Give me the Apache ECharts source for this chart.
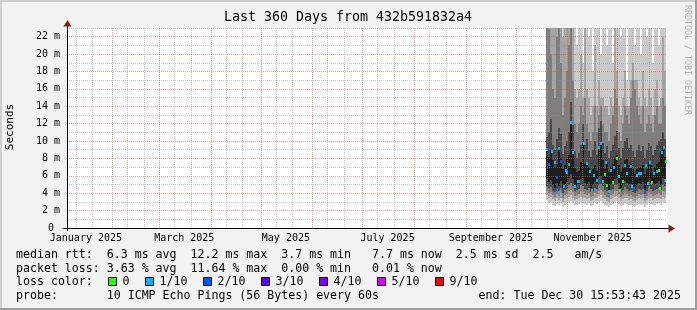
<!DOCTYPE html>
<html><head><meta charset="utf-8">
<script src="https://cdn.jsdelivr.net/npm/echarts@6/dist/echarts.min.js"></script>
<style>html,body{margin:0;padding:0;background:#f2f2f2}#c{width:697px;height:310px}</style>
</head><body><div id="c"></div>
<script>
// ---------- data ----------
const chartTitle = 'Last 360 Days from 432b591832a4';
const yTitle = 'Seconds';
const endTime = '2025-12-30T15:53:43Z';
const spanDays = 360;
const monthStarts = ['2025-02-01','2025-03-01','2025-04-01','2025-05-01','2025-06-01','2025-07-01','2025-08-01','2025-09-01','2025-10-01','2025-11-01','2025-12-01'];
const minorDays = [10, 20];   // minor grid on these days of every month
const xLabels = ['January 2025','March 2025','May 2025','July 2025','September 2025','November 2025'];
const xLabelDates = ['2025-01-16','2025-03-16','2025-05-16','2025-07-16','2025-09-16','2025-11-16'];

// smoke columns (ms), sorted pings of each consolidated period; 30 = above chart top
const smokeStart = '2025-10-19T01:30:00Z';
const smokeStepDays = 1.2;
const ping1  = [3.2,2.9,3.0,2.7,2.5,2.8,2.6,2.9,2.4,2.7,2.8,3.0,3.1,2.9,2.6,2.7,2.8,3.0,2.9,2.8,2.7,2.9,2.5,2.6,2.9,2.8,3.0,3.1,2.9,2.7,2.5,2.4,2.7,2.8,3.0,3.1,2.8,2.5,2.7,2.9,2.8,2.6,2.7,2.5,2.4,2.6,2.8,2.7,2.8,2.4,2.6,2.9,2.8,2.6,2.7,2.8,2.9,2.7,3.0,2.9];
const ping2  = [3.8,3.5,3.6,3.3,3.1,3.4,3.2,3.5,3.0,3.3,3.4,3.6,3.8,3.5,3.2,3.3,3.4,3.6,3.5,3.4,3.3,3.5,3.1,3.2,3.5,3.4,3.7,3.8,3.5,3.3,3.1,3.0,3.3,3.4,3.6,3.7,3.4,3.1,3.3,3.5,3.4,3.2,3.3,3.1,3.0,3.2,3.4,3.3,3.4,3.0,3.2,3.5,3.4,3.2,3.3,3.4,3.5,3.3,3.6,3.5];
const ping3  = [4.2,4.0,4.1,3.8,3.6,3.9,3.7,4.0,3.5,3.8,3.9,4.2,4.4,4.1,3.7,3.8,3.9,4.2,4.1,3.9,3.8,4.0,3.6,3.7,4.0,3.9,4.3,4.4,4.1,3.8,3.6,3.4,3.8,3.9,4.2,4.3,3.9,3.6,3.8,4.0,3.9,3.7,3.8,3.6,3.5,3.7,3.9,3.8,3.9,3.4,3.7,4.0,3.9,3.7,3.8,3.9,4.0,3.8,4.2,4.1];
const ping4  = [4.8,4.6,4.7,4.3,4.1,4.5,4.2,4.6,4.0,4.4,4.5,4.9,5.2,4.8,4.2,4.4,4.5,4.9,4.8,4.5,4.4,4.6,4.1,4.2,4.6,4.5,5.0,5.1,4.8,4.4,4.2,3.9,4.4,4.5,4.9,5.0,4.5,4.1,4.4,4.7,4.5,4.3,4.4,4.1,4.0,4.3,4.5,4.4,4.5,3.9,4.2,4.7,4.5,4.3,4.4,4.5,4.6,4.4,4.9,4.8];
const ping5  = [5.6,5.3,5.5,5.0,4.6,5.2,4.8,5.4,4.6,5.1,5.3,5.8,6.2,5.6,4.8,5.0,5.1,5.6,5.7,5.2,5.1,5.3,4.6,4.9,5.3,5.1,5.9,6.0,5.5,5.2,4.8,4.3,5.0,5.2,5.6,5.8,5.2,4.6,5.0,5.4,5.2,5.0,5.1,4.7,4.5,5.0,5.2,5.1,5.3,4.4,4.8,5.4,5.2,4.9,5.1,5.2,5.4,5.0,5.8,5.6];
const ping6  = [9.2,8.2,9.0,7.8,7.0,7.4,9.4,8.0,6.8,7.2,7.9,8.4,12.3,9.0,6.9,6.4,6.6,7.6,9.8,7.4,7.6,7.0,6.5,6.8,7.2,6.6,9.4,9.9,7.8,6.8,7.6,6.4,7.0,7.4,8.0,8.4,7.2,6.4,7.0,7.8,7.9,7.2,7.4,6.8,6.2,6.8,7.0,7.0,7.2,6.2,6.8,7.6,7.2,6.4,7.0,7.4,7.6,8.8,9.4,8.2];
const ping7  = [10.5,11.0,12.5,9.6,9.0,10.2,11.5,10.8,8.5,9.4,10.0,11.0,14.5,11.8,8.8,8.0,8.6,9.6,12.0,9.5,10.2,8.8,8.2,9.0,10.0,8.4,11.5,12.3,9.8,8.6,9.4,8.0,8.9,9.6,10.6,11.2,9.2,8.0,9.2,10.0,10.4,9.2,9.6,8.8,8.2,9.0,9.6,8.8,9.4,8.0,9.0,9.8,9.4,8.4,9.0,9.6,10.0,10.2,11.0,10.2];
const ping8  = [24,30,20,16,15,22,30,19,13,15,18,21,30,17,12,11,12,14,13,15,12,11,10,11,14,11,13,14,12,11,11,10,12,13,16,15,11,10,12,14,13,12,15,17,16,14,13,12,14,11,12,13,12,11,13,14,12,12,15,14];
const ping9  = [30,30,30,30,26,30,30,30,22,30,30,30,30,30,16,15,16,20,15,24,16,15,13,14,21,14,17,15,15,14,14,13,15,14,23,18,14,13,15,18,14,14,17,19,17,17,15,14,18,15,14,16,15,13,16,17,14,15,22,18];
const ping10 = [30,30,30,30,30,30,30,30,30,30,30,30,30,30,30,21,30,30,19,30,30,22,30,18,30,30,30,20,30,30,21,30,30,19,30,30,30,22,30,30,17,30,30,30,21,30,30,20,30,30,22,30,30,19,30,30,21,30,30,30];

// median rtt (ms) per RRD row (0.6 day) and its loss level (tenths); null = not drawn
const medianStepDays = 0.6;
const medianRtt = [9.1,null,7.4,null,null,8.8,null,null,7.6,4.5, 5.9,null,9.2,4.3,7.7,null,null,4.8,null,6.7, 6.4,null,7.4,null,12.2,null,8.7,null,4.8,null, null,5.4,5.4,null,null,null,null,9.8,null,null, 7.5,null,null,6.6,null,4.4,null,6.1,null,null, 5.5,null,9.3,null,9.8,null,5.4,null,6.2,7.6, 5.0,null,4.2,null,6.7,null,5.3,7.0,null,null, 8.0,null,6.0,4.4,null,null,5.4,null,7.3,null, 6.3,null,null,null,7.1,4.8,null,4.6,null,null, 6.1,null,6.3,null,6.3,null,null,null,4.2,7.3, null,5.2,null,7.6,null,5.3,null,6.3,null,null, 6.5,null,6.7,4.6,null,8.7,null,9.3,5.5,7.7];
const lossLevel = [1,null,2,null,null,1,null,null,1,2, 2,null,1,1,2,null,null,1,null,1, 1,null,1,null,1,null,1,null,1,null, null,1,1,null,null,null,null,1,null,null, 1,null,null,1,null,1,null,1,null,null, 1,null,1,null,1,null,1,null,0,1, 0,null,1,null,1,null,0,1,null,null, 0,null,1,0,null,null,0,null,1,null, 1,null,null,null,1,1,null,2,null,null, 1,null,1,null,1,null,null,null,2,1, null,1,null,1,null,0,null,1,null,null, 1,null,0,0,null,1,null,1,1,0];

const lossNames = ['0','1/10','2/10','3/10','4/10','5/10','9/10'];
const lossKeys = [0,1,2,3,4,5,9];
const lossColorList = ['#26ff00','#00b8ff','#0059ff','#5e00ff','#7e00ff','#dd00ff','#ff0000'];

const legendRtt = 'median rtt:  6.3 ms avg  12.2 ms max  3.7 ms min   7.7 ms now  2.5 ms sd  2.5   am/s';
const legendLoss = 'packet loss: 3.63 % avg  11.64 % max  0.00 % min   0.01 % now';
const legendColorHead = 'loss color:';
const probeLine = ['probe:       10 ICMP Echo Pings (56 Bytes) every 60s', 'end: Tue Dec 30 15:53:43 2025'];

// ---------- build (x axis in days since window start) ----------
const DAY = 86400000;
const endTs = Date.parse(endTime);
const startTs = endTs - spanDays * DAY;
const toDay = (ts) => (ts - startTs) / DAY;
const monthX = monthStarts.map(d => toDay(Date.parse(d + 'T00:00:00Z')));
const labelX = xLabelDates.map(d => toDay(Date.parse(d + 'T00:00:00Z')));
const minorX = [];
['2025-01-01'].concat(monthStarts).forEach(m => minorDays.forEach(dd => {
  const x = toDay(Date.parse(m.slice(0, 8) + String(dd).padStart(2, '0') + 'T00:00:00Z'));
  if (x > 0 && x < spanDays) minorX.push(x);
}));

const pings = [ping1,ping2,ping3,ping4,ping5,ping6,ping7,ping8,ping9,ping10];
const s0 = toDay(Date.parse(smokeStart));
const smokeData = ping1.map((_, i) => [s0 + i*smokeStepDays, s0 + (i+1)*smokeStepDays].concat(pings.map(p => p[i])));
const medianData = [];
medianRtt.forEach((v, i) => { if (v != null) medianData.push([s0 + i*medianStepDays, s0 + (i+1)*medianStepDays, v, lossLevel[i]]); });
const lossColor = {}; lossKeys.forEach((k, i) => lossColor[k] = lossColorList[i]);

const smokeColors = ['#cacaca','#a4a4a4','#7e7e7e','#4a4a4a','#1e1e1e'];
const MONO = 'DejaVu Sans Mono';
const majorCol = 'rgba(222,79,79,0.5)';
const minorCol = 'rgba(143,143,143,0.45)';

const chart = echarts.init(document.getElementById('c'), null, {renderer: 'canvas', width: 697, height: 310});

const G = {left: 67, top: 28, width: 600, height: 200};
const graphics = [];
graphics.push({type:'rect', shape:{x:0,y:0,width:697,height:2}, style:{fill:'#cfcfcf'}, silent:true});
graphics.push({type:'rect', shape:{x:0,y:0,width:2,height:310}, style:{fill:'#cfcfcf'}, silent:true});
graphics.push({type:'rect', shape:{x:0,y:308,width:697,height:2}, style:{fill:'#9e9e9e'}, silent:true});
graphics.push({type:'rect', shape:{x:695,y:0,width:2,height:310}, style:{fill:'#9e9e9e'}, silent:true});
graphics.push({type:'text', x:348, y:18, style:{text:chartTitle, font:'13.3px "'+MONO+'"', fill:'#000', align:'center', verticalAlign:'middle'}});
graphics.push({type:'text', x:10, y:127, rotation:Math.PI/2, style:{text:yTitle, font:'11px "'+MONO+'"', fill:'#000', align:'center', verticalAlign:'middle'}});
graphics.push({type:'text', x:687, y:60, rotation:-Math.PI/2, style:{text:'RRDTOOL / TOBI OETIKER', font:'8.3px "'+MONO+'"', fill:'#b4b4b4', align:'center', verticalAlign:'middle'}});
// axis extensions and arrows
graphics.push({type:'line', shape:{x1:67.5,y1:28,x2:67.5,y2:24}, style:{stroke:'#000', lineWidth:1}, z:20});
graphics.push({type:'line', shape:{x1:67.5,y1:228,x2:67.5,y2:231}, style:{stroke:'#000', lineWidth:1}, z:20});
graphics.push({type:'line', shape:{x1:63,y1:228.5,x2:67,y2:228.5}, style:{stroke:'#000', lineWidth:1}, z:20});
graphics.push({type:'polygon', shape:{points:[[63.5,26.5],[71.5,26.5],[67.5,20]]}, style:{fill:'#801f1f'}, z:20});
graphics.push({type:'line', shape:{x1:667,y1:228.5,x2:670,y2:228.5}, style:{stroke:'#000', lineWidth:1}, z:20});
graphics.push({type:'polygon', shape:{points:[[668.5,224.5],[668.5,232.5],[675,228.5]]}, style:{fill:'#801f1f'}, z:20});
// legend
const lf = '11.6px "'+MONO+'"';
graphics.push({type:'text', x:16, y:255, style:{text:legendRtt, font:lf, fill:'#000', verticalAlign:'middle'}});
graphics.push({type:'text', x:16, y:268.5, style:{text:legendLoss, font:lf, fill:'#000', verticalAlign:'middle'}});
graphics.push({type:'text', x:16, y:282, style:{text:legendColorHead, font:lf, fill:'#000', verticalAlign:'middle'}});
const swX = [108.5,145.5,203.5,261.5,319.5,377.5,435.5];
lossNames.forEach((s,i) => {
  graphics.push({type:'rect', shape:{x:swX[i], y:277.5, width:8, height:8}, style:{fill:lossColorList[i], stroke:'#000', lineWidth:1}});
  graphics.push({type:'text', x:swX[i]+14, y:282, style:{text:s, font:lf, fill:'#000', verticalAlign:'middle'}});
});
graphics.push({type:'text', x:16, y:296, style:{text:probeLine[0], font:lf, fill:'#000', verticalAlign:'middle'}});
graphics.push({type:'text', x:681, y:296, style:{text:probeLine[1], font:lf, fill:'#000', align:'right', verticalAlign:'middle'}});

chart.setOption({
  animation: false,
  backgroundColor: '#f2f2f2',
  grid: {left: G.left, top: G.top, width: G.width, height: G.height, show: true, backgroundColor: '#ffffff', borderWidth: 0},
  xAxis: [
    {type:'value', min:0, max:spanDays, z:6,
     axisLine:{show:true, onZero:false, lineStyle:{color:'#000', width:1}},
     axisTick:{show:false, customValues: monthX},
     axisLabel:{customValues: labelX, formatter:(v) => { const k = labelX.findIndex(t => Math.abs(t - v) < 0.5); return k >= 0 ? xLabels[k] : ''; },
                fontFamily:MONO, fontSize:10, color:'#000', margin:5},
     splitLine:{show:true, lineStyle:{color:majorCol, type:[1,1], width:1}}},
    {type:'value', min:0, max:spanDays, z:4, position:'bottom',
     axisLine:{show:false}, axisTick:{show:false, customValues: minorX}, axisLabel:{show:false},
     splitLine:{show:true, lineStyle:{color:minorCol, type:[1,1], width:1}}}
  ],
  yAxis: [{type:'value', min:0, max:23, interval:1, z:5,
    axisLine:{show:true, onZero:false, lineStyle:{color:'#000', width:1}},
    axisTick:{show:false},
    axisLabel:{formatter:(v) => (v % 2 ? '' : (v === 0 ? '0 ' : v + ' m')), showMaxLabel:false, margin:7, fontFamily:MONO, fontSize:10, color:'#000'},
    splitLine:{show:true, lineStyle:{color:[majorCol, minorCol], type:[1,1], width:1}}}],
  series: [
    {type:'custom', name:'smoke', xAxisIndex:0, yAxisIndex:0, clip:true, z:2, silent:true,
     encode:{x:[0,1], y:[2,3,4,5,6,7,8,9,10,11]},
     data: smokeData,
     renderItem: (params, api) => {
       const t0 = api.value(0), t1 = api.value(1);
       const children = [];
       for (let k = 0; k < 5; k++) {
         const lo = api.value(2 + k), hi = api.value(11 - k);
         const a = api.coord([t0, hi]), b = api.coord([t1, lo]);
         const x0 = Math.round(a[0]), x1 = Math.round(b[0]);
         children.push({type:'rect', shape:{x:x0, y:Math.round(a[1]), width:x1 - x0, height:Math.round(b[1]) - Math.round(a[1])}, style:{fill:smokeColors[k]}});
       }
       return {type:'group', children};
     }},
    {type:'custom', name:'median', xAxisIndex:0, yAxisIndex:0, clip:true, z:10, silent:true,
     encode:{x:[0,1], y:2},
     data: medianData,
     renderItem: (params, api) => {
       const a = api.coord([api.value(0), api.value(2)]);
       return {type:'rect', shape:{x:Math.round(a[0]), y:Math.round(a[1]) - 1, width:2, height:3}, style:{fill: lossColor[api.value(3)]}};
     }}
  ],
  graphic: graphics
});
</script></body></html>
